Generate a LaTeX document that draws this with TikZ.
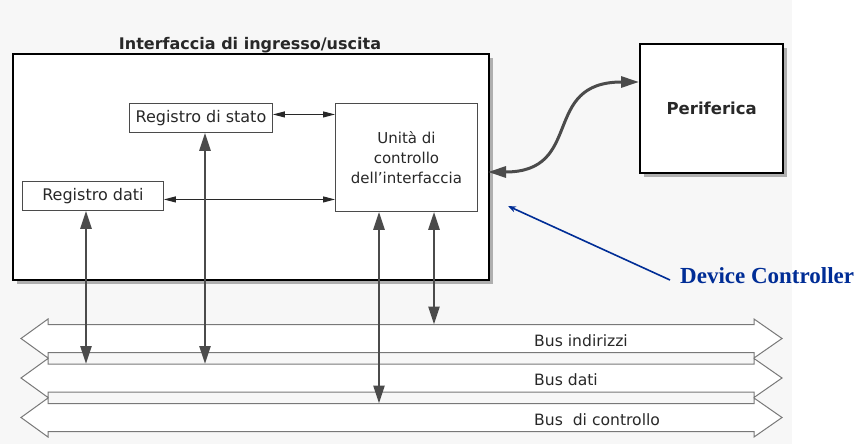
\documentclass[tikz,border=0pt]{standalone}
\usepackage{fontspec}
\setmainfont{DejaVu Sans}
\newfontfamily\dcfont{Liberation Serif}
\usetikzlibrary{arrows.meta}
\definecolor{dcblue}{RGB}{0,45,150}
\definecolor{ink}{RGB}{40,40,40}
\definecolor{arr}{RGB}{75,75,75}
\definecolor{busline}{RGB}{120,120,120}
\definecolor{shadowgray}{RGB}{175,175,175}
\definecolor{paper}{RGB}{247,247,247}
\tikzset{
  regbox/.style={draw=arr, line width=0.9pt, fill=white, inner sep=0pt, text=ink,
    font=\fontsize{16}{20}\selectfont},
  bigbox/.style={draw=black, line width=2.4pt, fill=white, inner sep=0pt},
  bigarrow/.style={draw=arr, line width=2.6pt, {Triangle[length=18pt,width=11pt]}-{Triangle[length=18pt,width=11pt]}},
  smallarrow/.style={draw=ink, line width=1pt, {Triangle[length=12pt,width=6pt]}-{Triangle[length=12pt,width=6pt]}},
  curvearrow/.style={draw=arr, line width=3pt, {Triangle[length=18pt,width=11pt]}-{Triangle[length=18pt,width=11pt]}},
  busshape/.style={draw=busline, line width=1pt, fill=white},
  buslabel/.style={anchor=west, text=ink, inner sep=0pt, font=\fontsize{15.6}{18}\selectfont},
  titlelabel/.style={text=ink, inner sep=0pt, font=\fontsize{16}{20}\bfseries\selectfont},
}
\begin{document}
\begin{tikzpicture}[x=1pt,y=-1pt]
\useasboundingbox (0,0) rectangle (863,444);
\fill[white] (0,0) rectangle (863,444);
\fill[paper] (0,0) rectangle (792,444);

% shadows
\fill[shadowgray] (17,58) rectangle (493,284);
\fill[shadowgray] (644,48) rectangle (787,177);

% main interface box
\node[bigbox, minimum width=476pt, minimum height=226pt, anchor=north west] (iface) at (12,53) {};
\node[titlelabel] (ifacetitle) at (250,45) {Interfaccia di ingresso/uscita};

% periferica
\node[bigbox, minimum width=143pt, minimum height=129pt, anchor=north west, text=ink,
  font=\fontsize{16.5}{20}\bfseries\selectfont] (perif) at (639,43) {Periferica};

% inner boxes
\node[regbox, minimum width=143pt, minimum height=29pt, anchor=north west] (regstato) at (129,103) {Registro di stato};
\node[regbox, minimum width=141pt, minimum height=29pt, anchor=north west] (regdati) at (22,181) {Registro dati};
\node[regbox, minimum width=142pt, minimum height=108pt, anchor=north west, align=center,
  font=\fontsize{15}{20}\selectfont] (unita) at (335,103) {Unità di\\controllo\\dell’interfaccia};

% buses
\foreach \cy/\nm in {338.5/bind,378/bdat,417.5/bctl}{
  \draw[busshape] (48,\cy-14) -- (754,\cy-14) -- (754,\cy-19.5) -- (782,\cy) -- (754,\cy+19.5)
    -- (754,\cy+14) -- (48,\cy+14) -- (48,\cy+19.5) -- (21,\cy) -- (48,\cy-19.5) -- cycle;
  \coordinate (\nm top) at (400,\cy-14);
}
\node[buslabel] (lbind) at (534,341) {Bus indirizzi};
\node[buslabel] (lbdat) at (534,380) {Bus dati};
\node[buslabel] (lbctl) at (534,420) {Bus\ \ di controllo};

% x positions of vertical connectors
\coordinate (xa) at (86,0);
\coordinate (xb) at (205,0);
\coordinate (xc) at (379,0);
\coordinate (xd) at (434,0);

% horizontal connectors
\draw[smallarrow] ([yshift=3.5pt]regstato.east) -- ([yshift=3.5pt]regstato.east -| unita.west);
\draw[smallarrow] ([yshift=-3.5pt]regdati.east) -- ([yshift=-3.5pt]regdati.east -| unita.west);

% vertical connectors
\draw[bigarrow] (regdati.south -| xa) -- (xa |- bdattop);
\draw[bigarrow] (regstato.south -| xb) -- (xb |- bdattop);
\draw[bigarrow] (unita.south -| xc) -- (xc |- bctltop);
\draw[bigarrow] (unita.south -| xd) -- (xd |- bindtop);

% curved connector to periferica
\coordinate (cstart) at (488,172);
\draw[curvearrow] (cstart) .. controls (585,172) and (540,82) .. (perif.west |- 0,82);

% device controller annotation
\node[anchor=west, inner sep=0pt, text=dcblue, font=\dcfont\fontsize{23}{26}\bfseries\selectfont] (dc) at (680,276) {Device Controller};
\draw[dcblue, line width=1.6pt, -{Stealth[length=8pt,width=6pt]}] ([xshift=-10pt,yshift=-4pt]dc.west) -- (508,206);
\end{tikzpicture}
\end{document}
